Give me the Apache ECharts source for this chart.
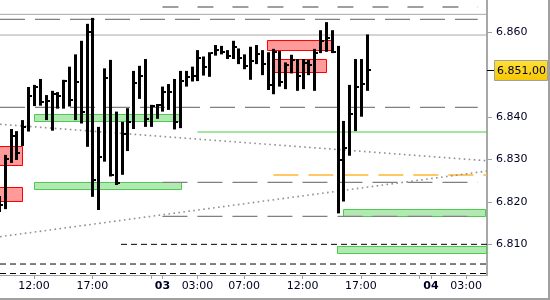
<!DOCTYPE html>
<html><head><meta charset="utf-8">
<script src="https://cdn.jsdelivr.net/npm/echarts@6/dist/echarts.min.js"></script>
<style>html,body{margin:0;padding:0;background:#fff;overflow:hidden}#c{width:550px;height:300px}</style>
</head><body><div id="c"></div>
<script>
// ---- data (30-minute slots, slot 0 = day 2, 12:00) ----
const slots  = [-6,-5,-4,-3,-2,-1,0,1,2,3,4,5,6,7,8,9,10,11,12,13,14,15,16,17,18,19,20,21,22,23,24,25,26,27,28,29,30,31,32,33,34,35,36,37,38,39,40,41,42,43,44,45,46,47,48,49,50,51,52,53,54,55,56,57];
const highs  = [6821.4,6831.1,6837.2,6836.7,6839.3,6847.1,6847.6,6849.0,6845.2,6846.2,6845.9,6848.8,6851.9,6854.8,6858.0,6862.0,6863.4,6837.7,6851.5,6853.5,6841.3,6838.9,6842.1,6850.9,6852.1,6853.7,6842.9,6843.1,6847.2,6847.8,6849.0,6850.9,6850.9,6851.9,6855.8,6854.3,6855.3,6857.0,6856.8,6855.8,6858.0,6856.2,6854.8,6856.6,6857.0,6855.8,6855.3,6856.1,6855.6,6852.9,6854.7,6853.7,6853.7,6853.5,6856.1,6860.5,6862.4,6860.5,6856.8,6839.1,6847.6,6853.7,6853.7,6859.5];
const lows   = [6817.6,6818.3,6829.2,6829.9,6833.2,6836.6,6842.6,6842.7,6839.3,6836.8,6842.0,6842.0,6842.5,6839.3,6838.5,6833.0,6821.2,6818.1,6829.5,6826.0,6824.0,6826.4,6832.0,6837.2,6844.3,6837.7,6837.7,6839.6,6841.3,6841.7,6837.1,6837.4,6847.2,6848.4,6848.5,6849.8,6849.5,6854.5,6854.8,6853.7,6853.7,6852.5,6851.3,6848.8,6852.5,6849.9,6846.4,6845.4,6847.2,6846.6,6850.3,6846.2,6846.6,6849.9,6846.2,6855.1,6855.4,6855.1,6817.3,6820.1,6830.9,6836.7,6840.1,6846.2];
const closes = [6819.3,6830.1,6835.6,6831.5,6837.6,6845.0,6847.1,6843.6,6843.8,6845.5,6845.0,6848.5,6844.0,6848.4,6841.1,6860.1,6825.2,6830.7,6849.3,6826.4,6824.4,6836.0,6838.9,6848.0,6849.8,6839.6,6842.7,6842.9,6845.9,6845.9,6838.8,6848.5,6849.5,6849.8,6854.0,6851.9,6855.1,6855.8,6855.3,6854.5,6856.6,6853.9,6852.1,6853.2,6854.8,6852.5,6847.6,6855.4,6848.4,6852.3,6853.5,6849.8,6852.7,6852.3,6855.1,6858.0,6858.6,6855.3,6829.9,6832.8,6840.7,6847.2,6847.7,6851.0];
const lastPrice = 6851.00;

const xTickSlots  = [0, 10, 22, 28, 36, 46, 56, 68, 74];
const xTickLabels = ['12:00','17:00','03','03:00','07:00','12:00','17:00','04','03:00'];
const xMinorTicks = [20, 66];
const yTickValues = [6810, 6820, 6830, 6840, 6860];

const X_MIN = -5.824, X_MAX = 77.59;
const Y_MIN = 6802.77, Y_MAX = 6867.62;

// zones: [fromSlot, toSlot, upper, lower]
const greenZones = [[0, 25.13, 6840.81, 6839.16], [0, 25.13, 6824.70, 6822.98], [52.98, 77.37, 6818.45, 6816.75], [51.9, 77.37, 6809.61, 6808.03]];
const redZones   = [[-7, -2.0, 6833.19, 6828.64], [-7, -2.0, 6823.45, 6820.06], [39.96, 50.99, 6858.11, 6855.66], [41.16, 50.14, 6853.70, 6850.57]];

// levels: [value, fromSlot, toSlot]
const greySolidLevels  = [[6864.24, X_MIN, X_MAX], [6859.36, X_MIN, X_MAX]];
const greyDashLevels   = [[6863.07, X_MIN, 76], [6842.31, X_MIN, 76], [6824.63, 22, 76], [6816.61, 22, 76]];
const greyShortDashLevels = [[6865.97, 22, 76]];
const greenLevels      = [[6836.49, 28, X_MAX]];
const orangeLevels     = [[6826.35, 41, X_MAX]];
const blackDashLevels  = [[6810.00, 14.9, X_MAX], [6805.36, X_MIN, X_MAX], [6803.12, X_MIN, X_MAX]];
// trend lines: [[slot, value], [slot, value]]
const trendDown = [[X_MIN, 6838.31], [X_MAX, 6829.72]];
const trendUp   = [[X_MIN, 6811.80], [X_MAX, 6827.29]];

// ---- helpers ----
const FONT = 'DejaVu Sans';
const TXT = '#000022';
function fmtK(v) { const s = String(Math.round(v)); return s.slice(0, -3) + '.' + s.slice(-3); }
function fmtPrice(v) { const w = Math.floor(v); const d = Math.round((v - w) * 100); return fmtK(w) + ',' + String(d).padStart(2, '0'); }

function levelSeries(list, style) {
  return list.map(l => ({
    type: 'line', silent: true, animation: false, symbol: 'none', z: 2,
    data: [[l[1], l[0]], [l[2], l[0]]],
    lineStyle: style
  }));
}

const zoneData = greenZones.map(z => z.concat([0])).concat(redZones.map(z => z.concat([1])));
const barData = slots.map((s, i) => [s, highs[i], lows[i], closes[i]]);

const chart = echarts.init(document.getElementById('c'), null, {renderer: 'canvas'});
chart.setOption({
  animation: false,
  backgroundColor: '#fff',
  grid: {left: 0, right: 63, top: 0, bottom: 25, containLabel: false, outerBoundsMode: 'none'},
  xAxis: {
    type: 'value', min: X_MIN, max: X_MAX,
    axisLine: {show: true, onZero: false, lineStyle: {color: '#a0a0a0', width: 1}},
    axisTick: {show: true, customValues: xTickSlots.concat(xMinorTicks), length: 4, lineStyle: {color: '#a0a0a0'}},
    axisLabel: {
      customValues: xTickSlots, margin: 6, fontFamily: FONT, fontSize: 11, color: TXT,
      formatter: v => { const i = xTickSlots.indexOf(v); const t = i >= 0 ? xTickLabels[i] : ''; return t.length === 2 ? '{b|' + t + '}' : t; },
      rich: {b: {fontWeight: 'bold', fontFamily: FONT, fontSize: 11, color: TXT}}
    },
    splitLine: {show: false}
  },
  yAxis: {
    type: 'value', position: 'right', min: Y_MIN, max: Y_MAX,
    axisLine: {show: true, onZero: false, lineStyle: {color: '#a8a8a8', width: 2}},
    axisTick: {show: true, customValues: yTickValues, length: 5, lineStyle: {color: '#a0a0a0'}},
    axisLabel: {customValues: yTickValues, formatter: fmtK, margin: 9, fontFamily: FONT, fontSize: 11, color: TXT},
    splitLine: {show: false}
  },
  graphic: [{type: 'rect', shape: {x: -2, y: -2, width: 551, height: 301}, style: {fill: 'none', stroke: '#a0a0a0', lineWidth: 2}, silent: true}],
  series: [
    {
      type: 'custom', z: 1, silent: true, clip: true, data: zoneData,
      renderItem: (params, api) => {
        const p1 = api.coord([api.value(0), api.value(2)]);
        const p2 = api.coord([api.value(1), api.value(3)]);
        const red = api.value(4) === 1;
        return {type: 'rect', shape: {x: Math.round(p1[0]) + 0.5, y: Math.round(p1[1]) + 0.5, width: Math.round(p2[0] - p1[0]), height: Math.round(p2[1] - p1[1])},
          style: {fill: red ? '#ff9a9a' : '#b2e8b2', stroke: red ? '#ff0000' : '#4ccc4c', lineWidth: 1}};
      }
    },
    ...levelSeries(greySolidLevels, {color: '#a8a8a8', width: 1}),
    ...levelSeries(greyDashLevels, {color: '#808080', width: 1.3, type: [25, 10]}),
    ...levelSeries(greyShortDashLevels, {color: '#808080', width: 1.3, type: [16, 19]}),
    ...levelSeries(greenLevels, {color: '#44cc44', width: 1}),
    ...levelSeries(orangeLevels, {color: '#ffb733', width: 1.3, type: [25, 10]}),
    ...levelSeries(blackDashLevels, {color: '#000000', width: 1, type: [6, 4]}),
    {type: 'line', silent: true, symbol: 'none', z: 2, data: trendDown, lineStyle: {color: '#909090', width: 1.6, type: [1.6, 3.4]}},
    {type: 'line', silent: true, symbol: 'none', z: 2, data: trendUp, lineStyle: {color: '#909090', width: 1.6, type: [1.6, 3.4]}},
    {
      type: 'custom', z: 3, silent: true, clip: true, data: barData,
      renderItem: (params, api) => {
        const x = api.value(0);
        const hi = api.coord([x, api.value(1)]);
        const lo = api.coord([x, api.value(2)]);
        const cl = api.coord([x, api.value(3)]);
        const cx = Math.round(hi[0]);
        return {type: 'group', children: [
          {type: 'rect', shape: {x: cx - 1, y: hi[1], width: 3, height: Math.max(1, lo[1] - hi[1])}, style: {fill: '#000'}},
          {type: 'rect', shape: {x: cx + 2, y: Math.round(cl[1]) - 1, width: 2, height: 2}, style: {fill: '#000'}}
        ]};
      }
    },
    {
      type: 'custom', z: 5, silent: true, clip: false, data: [[X_MAX, lastPrice]],
      renderItem: (params, api) => {
        const p = api.coord([api.value(0), api.value(1)]);
        const xr = params.coordSys.x + params.coordSys.width;
        const y = Math.round(p[1]) + 0.5;
        return {type: 'group', children: [
          {type: 'line', shape: {x1: xr, y1: y, x2: xr + 7, y2: y}, style: {stroke: '#000', lineWidth: 1}},
          {type: 'rect', shape: {x: xr + 7.5, y: y - 10, width: 53, height: 20},
            style: {fill: new echarts.graphic.LinearGradient(0, 0, 0, 1, [{offset: 0, color: '#ffe23a'}, {offset: 1, color: '#f7c600'}]), stroke: '#a0a0a0', lineWidth: 1}},
          {type: 'text', style: {text: fmtPrice(api.value(1)), x: xr + 10, y: y + 0.5, verticalAlign: 'middle', font: '11px "' + FONT + '"', fill: TXT}}
        ]};
      }
    }
  ]
});
</script></body></html>
